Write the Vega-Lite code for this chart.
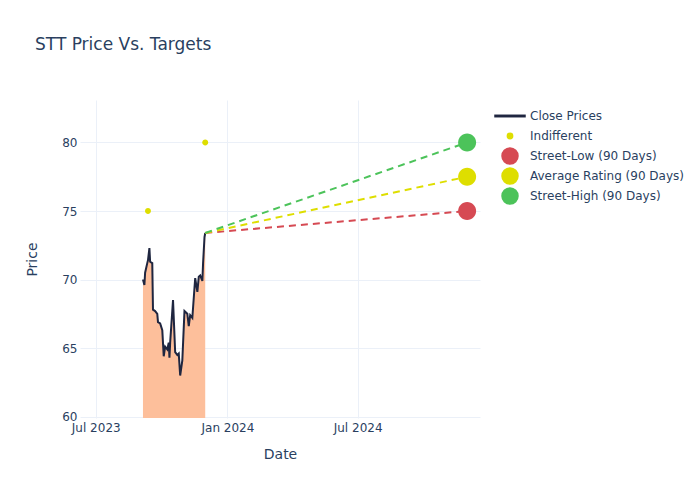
{
  "$schema": "https://vega.github.io/schema/vega-lite/v6.json",
  "autosize": "none",
  "width": 400,
  "height": 318,
  "padding": {"left": 80, "top": 100, "right": 220, "bottom": 82},
  "background": "white",
  "config": {
    "font": "DejaVu Sans",
    "view": {"stroke": null},
    "axis": {
      "labelColor": "#2a3f5f",
      "titleColor": "#2a3f5f",
      "labelFontSize": 12,
      "titleFontSize": 14,
      "titleFontWeight": "normal",
      "gridColor": "#ebf0f8",
      "gridWidth": 1,
      "domain": false,
      "ticks": false
    },
    "legend": {"labelColor": "#2a3f5f", "labelFontSize": 12}
  },
  "title": {
    "text": "STT Price Vs. Targets",
    "anchor": "start",
    "frame": "group",
    "dx": -45,
    "offset": 46,
    "fontSize": 17,
    "fontWeight": "normal",
    "color": "#2a3f5f"
  },
  "datasets": {
    "close": [
      {"date": "2023-09-05", "price": 70.0},
      {"date": "2023-09-07", "price": 69.6},
      {"date": "2023-09-08", "price": 70.5},
      {"date": "2023-09-11", "price": 71.2},
      {"date": "2023-09-12", "price": 71.4},
      {"date": "2023-09-14", "price": 72.3},
      {"date": "2023-09-15", "price": 71.3},
      {"date": "2023-09-18", "price": 71.2},
      {"date": "2023-09-19", "price": 67.8},
      {"date": "2023-09-22", "price": 67.7},
      {"date": "2023-09-25", "price": 67.5},
      {"date": "2023-09-26", "price": 66.9},
      {"date": "2023-09-29", "price": 66.8},
      {"date": "2023-10-02", "price": 66.3},
      {"date": "2023-10-04", "price": 64.4},
      {"date": "2023-10-06", "price": 65.1},
      {"date": "2023-10-09", "price": 64.9},
      {"date": "2023-10-11", "price": 65.4},
      {"date": "2023-10-12", "price": 64.3},
      {"date": "2023-10-13", "price": 65.4},
      {"date": "2023-10-17", "price": 68.5},
      {"date": "2023-10-20", "price": 64.7},
      {"date": "2023-10-23", "price": 64.5},
      {"date": "2023-10-25", "price": 64.6},
      {"date": "2023-10-27", "price": 63.0},
      {"date": "2023-10-30", "price": 64.1},
      {"date": "2023-11-02", "price": 67.7},
      {"date": "2023-11-06", "price": 67.5},
      {"date": "2023-11-08", "price": 66.6},
      {"date": "2023-11-10", "price": 67.4},
      {"date": "2023-11-13", "price": 67.2},
      {"date": "2023-11-16", "price": 69.4},
      {"date": "2023-11-17", "price": 70.1},
      {"date": "2023-11-20", "price": 69.1},
      {"date": "2023-11-22", "price": 70.2},
      {"date": "2023-11-24", "price": 70.3},
      {"date": "2023-11-27", "price": 69.9},
      {"date": "2023-11-28", "price": 71.2},
      {"date": "2023-11-30", "price": 73.1},
      {"date": "2023-12-01", "price": 73.4}
    ],
    "targets": [
      {"series": "Street-Low (90 Days)", "date": "2023-12-01", "price": 73.4},
      {"series": "Street-Low (90 Days)", "date": "2024-12-01", "price": 75},
      {"series": "Average Rating (90 Days)", "date": "2023-12-01", "price": 73.4},
      {"series": "Average Rating (90 Days)", "date": "2024-12-01", "price": 77.5},
      {"series": "Street-High (90 Days)", "date": "2023-12-01", "price": 73.4},
      {"series": "Street-High (90 Days)", "date": "2024-12-01", "price": 80}
    ],
    "points": [
      {"series": "Indifferent", "date": "2023-09-12", "price": 75},
      {"series": "Indifferent", "date": "2023-12-01", "price": 80},
      {"series": "Street-Low (90 Days)", "date": "2024-12-01", "price": 75},
      {"series": "Average Rating (90 Days)", "date": "2024-12-01", "price": 77.5},
      {"series": "Street-High (90 Days)", "date": "2024-12-01", "price": 80}
    ]
  },
  "encoding": {
    "x": {
      "field": "date",
      "type": "temporal",
      "title": "Date",
      "scale": {
        "type": "utc",
        "domain": [
          {"year": 2023, "month": 6, "date": 9, "utc": true},
          {"year": 2024, "month": 12, "date": 19, "utc": true}
        ]
      },
      "axis": {
        "values": [
          {"year": 2023, "month": 7, "date": 1, "utc": true},
          {"year": 2024, "month": 1, "date": 1, "utc": true},
          {"year": 2024, "month": 7, "date": 1, "utc": true}
        ],
        "format": "%b %Y",
        "labelPadding": 4,
        "titlePadding": 14
      }
    },
    "y": {
      "field": "price",
      "type": "quantitative",
      "title": "Price",
      "scale": {"domain": [59.9, 83.1], "zero": false, "nice": false},
      "axis": {"values": [60, 65, 70, 75, 80], "labelPadding": 3, "titlePadding": 22}
    }
  },
  "layer": [
    {
      "data": {"name": "close"},
      "mark": {"type": "area", "color": "#fdbf9b", "opacity": 1, "clip": true},
      "encoding": {"y2": {"datum": 59.9}}
    },
    {
      "data": {"name": "close"},
      "mark": {"type": "line", "strokeWidth": 2, "color": "#1f2640"},
      "encoding": {}
    },
    {
      "data": {"name": "targets"},
      "mark": {"type": "line", "strokeWidth": 2, "strokeDash": [7, 5]},
      "encoding": {
        "color": {
          "field": "series",
          "type": "nominal",
          "title": null,
          "scale": {
            "domain": ["Close Prices", "Indifferent", "Street-Low (90 Days)", "Average Rating (90 Days)", "Street-High (90 Days)"],
            "range": ["#1f2640", "#dede00", "#d64a53", "#dede00", "#4cc35a"]
          }
        }
      }
    },
    {
      "data": {"name": "points"},
      "mark": {"type": "point", "filled": true, "opacity": 1, "size": 324},
      "encoding": {
        "color": {
          "field": "series",
          "type": "nominal",
          "title": null,
          "scale": {
            "domain": ["Close Prices", "Indifferent", "Street-Low (90 Days)", "Average Rating (90 Days)", "Street-High (90 Days)"],
            "range": ["#1f2640", "#dede00", "#d64a53", "#dede00", "#4cc35a"]
          },
          "legend": {"orient": "right", "offset": 14, "padding": 7, "rowPadding": -4, "labelOffset": 11, "symbolSize": 256}
        },
        "shape": {
          "field": "series",
          "type": "nominal",
          "title": null,
          "scale": {
            "domain": ["Close Prices", "Indifferent", "Street-Low (90 Days)", "Average Rating (90 Days)", "Street-High (90 Days)"],
            "range": [
              "M-1.875,-0.09H1.875V0.09H-1.875ZM0,-1M0,1",
              "M0.33,0A0.33,0.33 0 1,1 -0.33,0A0.33,0.33 0 1,1 0.33,0ZM0,-1M0,1",
              "M1,0A1,1 0 1,1 -1,0A1,1 0 1,1 1,0Z",
              "M1,0A1,1 0 1,1 -1,0A1,1 0 1,1 1,0Z",
              "M1,0A1,1 0 1,1 -1,0A1,1 0 1,1 1,0Z"
            ]
          }
        }
      }
    }
  ]
}
